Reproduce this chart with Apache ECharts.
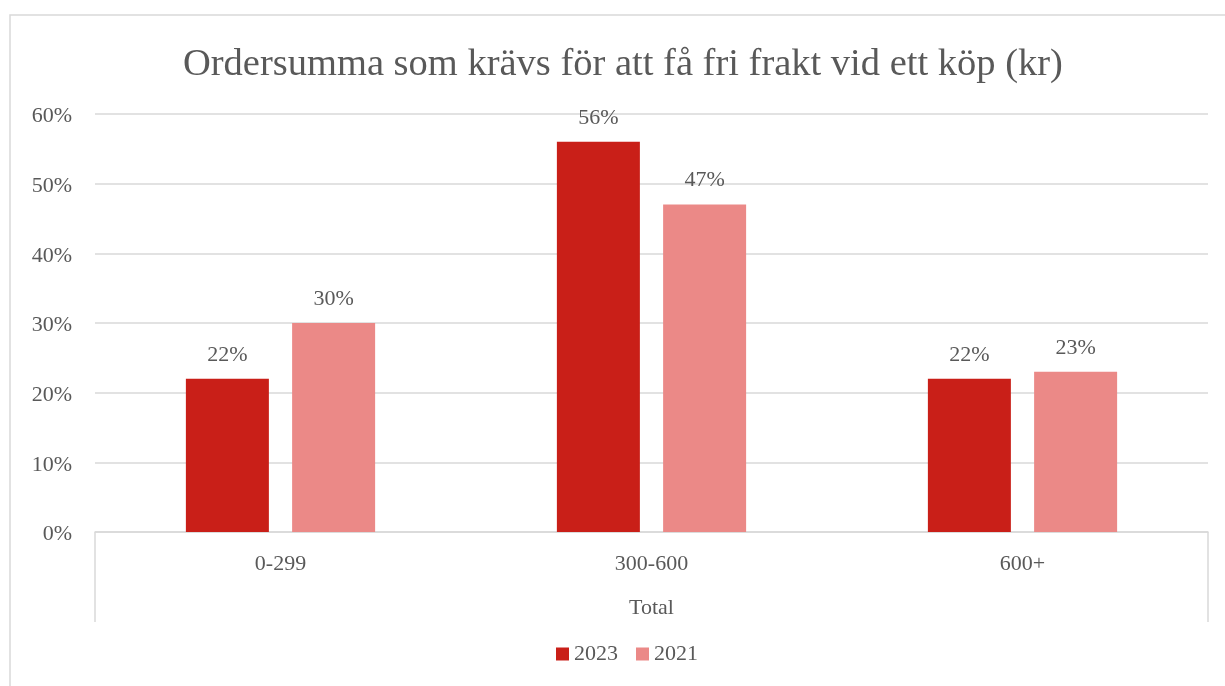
<!DOCTYPE html>
<html>
<head>
<meta charset="utf-8">
<script src="https://cdn.jsdelivr.net/npm/echarts@6/dist/echarts.min.js"></script>
<style>
  html, body { margin: 0; padding: 0; background: #fff; }
  #chart { width: 1225px; height: 686px; }
</style>
</head>
<body>
<div id="chart"></div>
<script>
var categories = ['0-299', '300-600', '600+'];
var values2023 = [22, 56, 22];
var values2021 = [30, 47, 23];
var yTicks = [0, 10, 20, 30, 40, 50, 60];

var font = 'Liberation Serif';
var grey = '#595959';

var chart = echarts.init(document.getElementById('chart'));
var option = {
    backgroundColor: '#fff',
    animation: false,
    textStyle: { fontFamily: font },
    title: {
        text: 'Ordersumma som krävs för att få fri frakt vid ett köp (kr)',
        left: 178,
        top: 40,
        textStyle: { fontFamily: font, fontSize: 38.5, fontWeight: 'normal', color: grey }
    },
    legend: {
        bottom: 16,
        left: 551,
        itemWidth: 13,
        itemHeight: 13,
        itemGap: 18,
        icon: 'rect',
        textStyle: { fontFamily: font, fontSize: 22, color: grey },
        data: ['2023', '2021']
    },
    grid: { left: 95, right: 17, top: 114, bottom: 154 },
    graphic: [{
        type: 'rect',
        shape: { x: 10, y: 15, width: 1230, height: 700 },
        style: { fill: 'none', stroke: '#d9d9d9', lineWidth: 1.5 },
        silent: true
    }],
    xAxis: [{
        type: 'category',
        data: categories,
        axisLine: { lineStyle: { color: '#d9d9d9', width: 1.5 } },
        axisTick: { show: false },
        axisLabel: { fontFamily: font, fontSize: 22, color: grey, margin: 21 }
    }, {
        type: 'category',
        data: ['Total'],
        position: 'bottom',
        axisLine: { show: false },
        axisTick: { show: true, length: 90, lineStyle: { color: '#d9d9d9', width: 1.5 } },
        axisLabel: { fontFamily: font, fontSize: 22, color: grey, margin: 65 }
    }],
    yAxis: {
        type: 'value',
        min: 0,
        max: 60,
        interval: 10,
        axisLine: { show: false },
        axisTick: { show: false },
        splitLine: { lineStyle: { color: '#d9d9d9', width: 1.5 } },
        axisLabel: {
            margin: 23,
            formatter: function (v) { return yTicks.indexOf(v) >= 0 ? '{v|' + v + '%}' : ''; },
            rich: {
                v: { fontFamily: font, fontSize: 22, color: grey, padding: [5, 0, 0, 0] }
            }
        }
    },
    series: [{
        name: '2023',
        type: 'bar',
        xAxisIndex: 0,
        data: values2023,
        barWidth: 83,
        barGap: '28%',
        itemStyle: { color: '#c91f18' },
        label: { show: true, position: 'top', distance: 13, formatter: '{c}%', fontFamily: font, fontSize: 22, color: grey }
    }, {
        name: '2021',
        type: 'bar',
        xAxisIndex: 0,
        data: values2021,
        barWidth: 83,
        barGap: '28%',
        itemStyle: { color: '#eb8987' },
        label: { show: true, position: 'top', distance: 13, formatter: '{c}%', fontFamily: font, fontSize: 22, color: grey }
    }]
};
chart.setOption(option);
window.onresize = chart.resize;
</script>
</body>
</html>
